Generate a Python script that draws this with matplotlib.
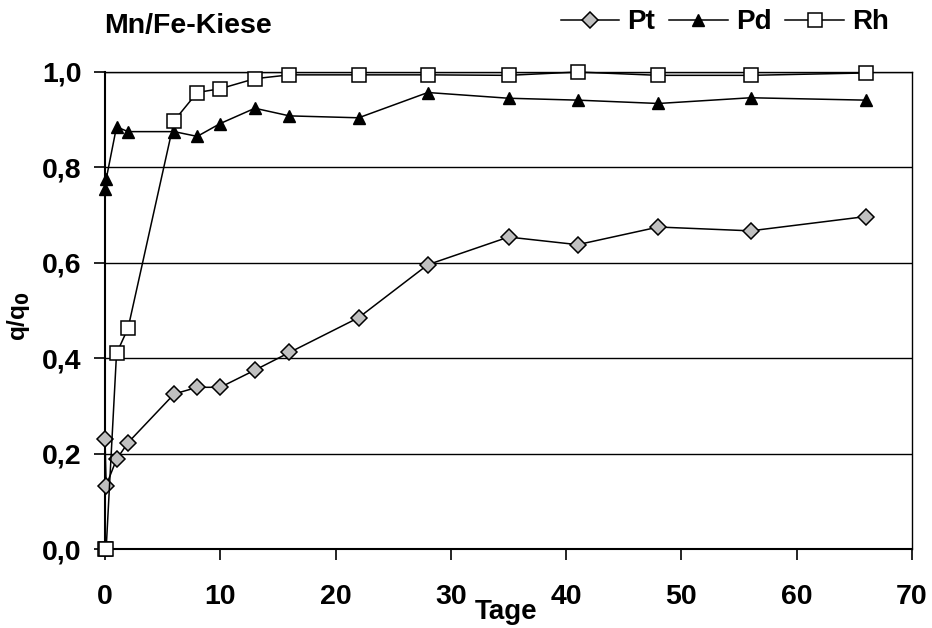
import matplotlib
matplotlib.use("Agg")
import matplotlib.pyplot as plt

plt.rcParams['font.family'] = ['Liberation Sans', 'DejaVu Sans']
plt.rcParams['font.weight'] = 'bold'

days = [0, 0.1, 1, 2, 6, 8, 10, 13, 16, 22, 28, 35, 41, 48, 56, 66]
pt = [0.23, 0.133, 0.188, 0.223, 0.325, 0.339, 0.339, 0.375, 0.412,
      0.485, 0.596, 0.654, 0.638, 0.675, 0.667, 0.697]
pd = [0.755, 0.775, 0.885, 0.875, 0.875, 0.865, 0.892, 0.924, 0.908,
      0.904, 0.957, 0.945, 0.941, 0.934, 0.946, 0.941]
rh = [0.0, 0.0, 0.41, 0.463, 0.898, 0.957, 0.965, 0.986, 0.994,
      0.994, 0.994, 0.993, 1.0, 0.993, 0.993, 0.998]

x_ticks = [0, 10, 20, 30, 40, 50, 60, 70]
y_ticks = [0.0, 0.2, 0.4, 0.6, 0.8, 1.0]
y_labels = ['0,0', '0,2', '0,4', '0,6', '0,8', '1,0']

fig = plt.figure(figsize=(9.32, 6.28), dpi=100)
ax = fig.add_axes([105 / 932, 1 - 549 / 628, 807 / 932, 477 / 628])

for v in y_ticks[1:]:
    ax.axhline(v, color='black', lw=1.0, zorder=1)

ax.plot(days, pt, color='black', lw=1.1, marker='D', ms=8,
        mfc='#c0c0c0', mec='black', mew=1.1, label='Pt', zorder=3,
        clip_on=False)
ax.plot(days, pd, color='black', lw=1.1, marker='^', ms=9,
        mfc='black', mec='black', label='Pd', zorder=3, clip_on=False)
ax.plot(days, rh, color='black', lw=1.1, marker='s', ms=9.5,
        mfc='white', mec='black', mew=1.1, label='Rh', zorder=4,
        clip_on=False)

ax.set_xlim(0, 70)
ax.set_ylim(0, 1.0)
ax.set_xticks(x_ticks)
ax.set_yticks(y_ticks)
ax.set_yticklabels(y_labels)
ax.tick_params(axis='both', direction='out', length=8, width=1.2,
               labelsize=20.5)
ax.tick_params(axis='x', pad=17)
ax.tick_params(axis='y', pad=9)
for s in ax.spines.values():
    s.set_linewidth(1.5)
ax.spines['top'].set_linewidth(1.0)
ax.spines['right'].set_linewidth(1.0)

fig.text(18 / 932, 1 - 316 / 628, 'q/q$_\\mathbf{0}$', rotation=90,
         ha='center', va='center', fontsize=17.5)
fig.text(506 / 932, 1 - 612 / 628, 'Tage', ha='center', va='center',
         fontsize=20)
fig.text(104 / 932, 1 - 33 / 628, 'Mn/Fe-Kiese', ha='left', va='baseline',
         fontsize=20.5)

fig.legend(loc='upper right', bbox_to_anchor=(900 / 932, 1.003), ncol=3,
           frameon=False, fontsize=20, handlelength=2.1, handletextpad=0.3,
           columnspacing=0.5, borderaxespad=0)

fig.savefig('out.png', dpi=100)
